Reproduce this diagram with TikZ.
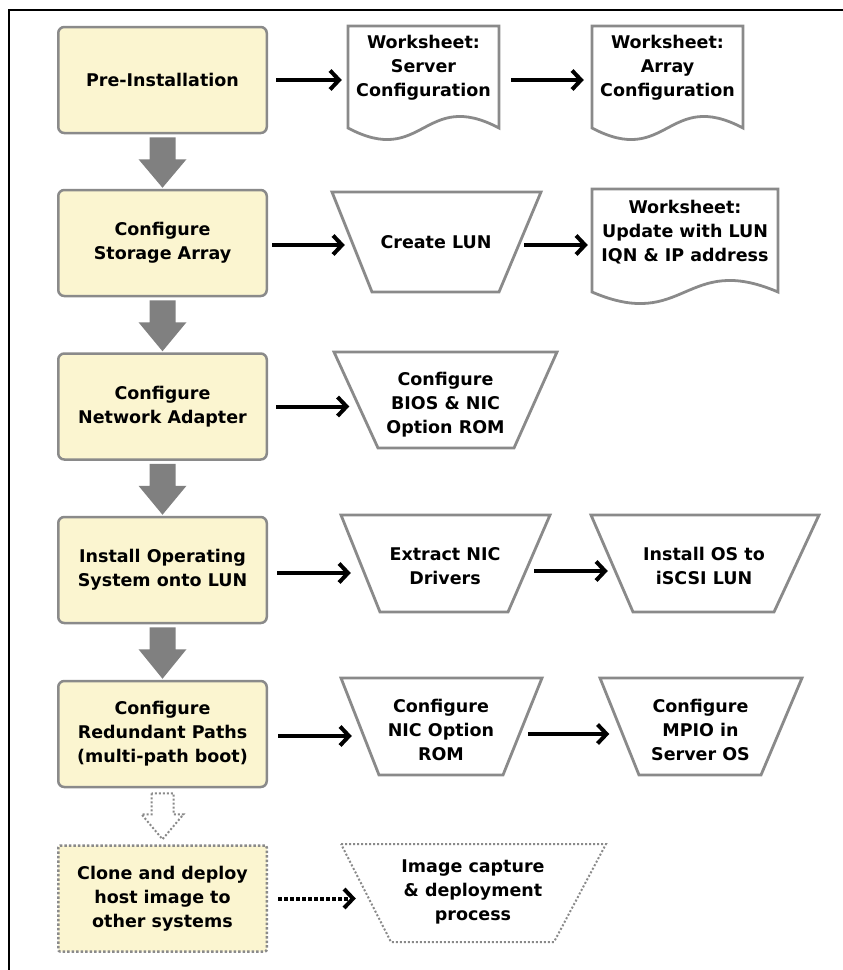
\documentclass[tikz,border=0pt]{standalone}
\usepackage{fontspec}
\setmainfont{DejaVu Sans}
\usetikzlibrary{arrows.meta,calc}
\definecolor{boxfill}{RGB}{251,245,208}
\definecolor{edgegray}{RGB}{138,138,138}
\definecolor{arrgray}{RGB}{128,128,128}
\tikzset{
  txt/.style={font=\fontsize{17.5}{24}\selectfont\bfseries, align=center, inner sep=0pt, text=black},
  stepbox/.style={txt, draw=edgegray, line width=2.5pt, fill=boxfill, rounded corners=6pt, minimum width=208.5pt, minimum height=106pt},
  dotbox/.style={stepbox, dotted, rounded corners=2pt},
  shapeline/.style={draw=edgegray, line width=2.8pt, fill=white, line join=miter},
  dotline/.style={draw=edgegray, line width=2pt, dotted, fill=white},
  arr/.style={draw=black, line width=4pt, -{Straight Barb[length=9pt,width=19pt,line width=4pt]}},
  dotarr/.style={arr, dotted},
  blockarr/.style={fill=arrgray},
  hollowarr/.style={draw=edgegray, line width=2pt, dotted, fill=white}
}
\begin{document}
\begin{tikzpicture}[x=1pt,y=-1pt]
\useasboundingbox (0,0) rectangle (843,970);
% frame
\draw[line width=2pt] (9,970) -- (9,10) -- (843,10);

% left column
\node[stepbox] (b1) at (162.5,80) {Pre-Installation};
\node[stepbox] (b2) at (162.5,243) {Configure\\Storage Array};
\node[stepbox] (b3) at (162.5,406.5) {Configure\\Network Adapter};
\node[stepbox] (b4) at (162.5,570) {Install Operating\\System onto LUN};
\node[stepbox] (b5) at (162.5,734) {Configure\\Redundant Paths\\(multi-path boot)};
\node[dotbox] (b6) at (162.5,898.5) {Clone and deploy\\host image to\\other systems};

% block arrows between steps
\foreach \a/\b in {b1/b2,b2/b3,b3/b4,b4/b5}{
  \fill[blockarr] ($(\a.south)+(-13,3)$) -- ++(0,22) -- ++(-11,0) -- ($(\b.north)+(0,-1)$)
    -- ($(\a.south)+(24,25)$) -- ++(-11,0) -- ++(0,-22) -- cycle;
}
\draw[hollowarr] ($(b5.south)+(-11,5)$) -- ++(0,21) -- ++(-10,0) -- ($(b6.north)+(0,-5)$)
    -- ($(b5.south)+(21,26)$) -- ++(-10,0) -- ++(0,-21) -- cycle;

% worksheets (document shapes)
\draw[shapeline] (348,26) -- (348,128) .. controls (423.5,168) and (423.5,88) .. (499,128) -- (499,26) -- cycle;
\node[txt, minimum width=151pt] (w1) at (423.5,68) {Worksheet:\\Server\\Configuration};
\draw[shapeline] (592,26) -- (592,128) .. controls (667.5,168) and (667.5,88) .. (743,128) -- (743,26) -- cycle;
\node[txt, minimum width=151pt] (w2) at (667.5,68) {Worksheet:\\Array\\Configuration};
\draw[shapeline] (592,189) -- (592,292) .. controls (685,332) and (685,252) .. (778,292) -- (778,189) -- cycle;
\node[txt, minimum width=186pt] (w3) at (685,232) {Worksheet:\\Update with LUN\\IQN \& IP address};

% trapezoids
\draw[shapeline] (332,192) -- (541,192) -- (499,292) -- (372,292) -- cycle;
\node[txt, minimum width=168pt] (t2) at (436,242) {Create LUN};
\draw[shapeline] (334,352) -- (557,352) -- (514,448) -- (378,448) -- cycle;
\node[txt, minimum width=180pt] (t3) at (445.5,405) {Configure\\BIOS \& NIC\\Option ROM};
\draw[shapeline] (341,515) -- (550,515) -- (508,612) -- (380,612) -- cycle;
\node[txt, minimum width=168pt] (t4a) at (445,566) {Extract NIC\\Drivers};
\draw[shapeline] (591,515) -- (819,515) -- (774,612) -- (633,612) -- cycle;
\node[txt, minimum width=184pt] (t4b) at (704,566) {Install OS to\\iSCSI LUN};
\draw[shapeline] (341,678) -- (542,678) -- (503,775) -- (379,775) -- cycle;
\node[txt, minimum width=162pt] (t5a) at (441,730) {Configure\\NIC Option\\ROM};
\draw[shapeline] (600,678) -- (802,678) -- (761,775) -- (639,775) -- cycle;
\node[txt, minimum width=162pt] (t5b) at (700.5,730) {Configure\\MPIO in\\Server OS};
\draw[dotline] (341,844) -- (606,844) -- (554,942) -- (391,942) -- cycle;
\node[txt, minimum width=214pt] (t6) at (473,892) {Image capture\\\& deployment\\process};

% connectors
\draw[arr, shorten <=8pt, shorten >=6pt] (b1.east) -- (b1.east -| w1.west);
\draw[arr, shorten <=12pt, shorten >=8pt] (w1.east |- b1.east) -- (b1.east -| w2.west);
\draw[arr, shorten <=4pt, shorten >=7pt] ($(b2.east)+(0,2)$) -- ($(b2.east -| t2.west)+(0,2)$);
\draw[arr, shorten <=4pt, shorten >=4pt] ($(t2.east |- b2.east)+(0,2)$) -- ($(b2.east -| w3.west)+(0,2)$);
\draw[arr, shorten <=8pt, shorten >=6pt] (b3.east) -- (b3.east -| t3.west);
\draw[arr, shorten <=9pt, shorten >=10pt] ($(b4.east)+(0,3)$) -- ($(b4.east -| t4a.west)+(0,3)$);
\draw[arr, shorten <=5pt, shorten >=4pt] ($(t4a.east |- b4.east)+(0,1)$) -- ($(b4.east -| t4b.west)+(0,1)$);
\draw[arr, shorten <=10pt, shorten >=8pt] ($(b5.east)+(0,2)$) -- ($(b5.east -| t5a.west)+(0,2)$);
\draw[arr, shorten <=6pt, shorten >=10pt] (t5a.east |- b5.east) -- (b5.east -| t5b.west);
\draw[dotarr, shorten <=10pt, shorten >=10pt] (b6.east) -- (b6.east -| t6.west);
\end{tikzpicture}
\end{document}
